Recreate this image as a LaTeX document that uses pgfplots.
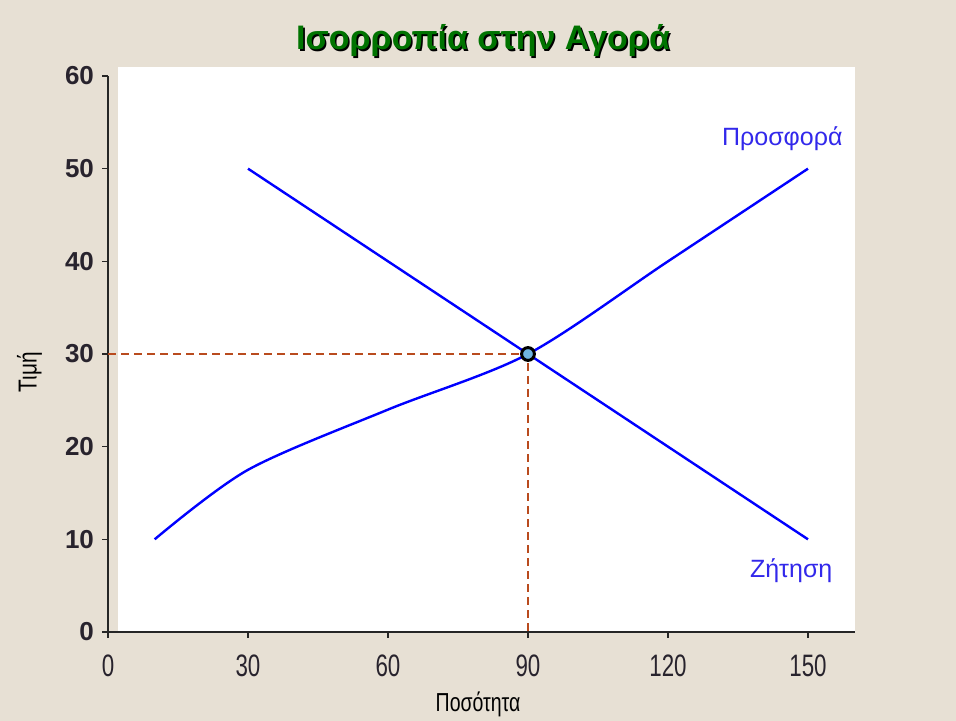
\documentclass[border=0pt]{standalone}
\usepackage{fontspec}
\setmainfont{Liberation Sans}
\usepackage{graphicx}
\usepackage{pgfplots}
\pgfplotsset{compat=1.18}
\definecolor{bg}{RGB}{231,224,212}
\definecolor{tgreen}{RGB}{0,115,0}
\definecolor{dashc}{RGB}{185,75,30}
\definecolor{lbl}{RGB}{50,40,235}
\definecolor{tick}{RGB}{40,35,45}
\definecolor{mfill}{RGB}{110,180,225}
\begin{document}
\begin{tikzpicture}
\useasboundingbox (0,0) rectangle (478pt,360.5pt);
\fill[bg] (0,0) rectangle (478pt,360.5pt);
\fill[white] (59pt,44.5pt) rectangle (427.5pt,327pt);
\node[text=black, font=\bfseries\fontsize{17}{19}\selectfont] at (242.3pt,339.2pt) {Ισορροπία στην Αγορά};
\node[text=tgreen, font=\bfseries\fontsize{17}{19}\selectfont] at (241.5pt,340pt) {Ισορροπία στην Αγορά};
\begin{axis}[
  at={(54pt,44.5pt)}, anchor=south west,
  scale only axis, width=373.33pt, height=278pt,
  xmin=0, xmax=160, ymin=0, ymax=60,
  axis x line=bottom, axis y line=left,
  axis line style={-, line width=0.8pt, black!85},
  xtick={0,30,60,90,120,150}, ytick={0,10,20,30,40,50,60},
  tick align=outside, major tick length=3pt,
  tick style={line width=0.8pt, black!85},
  /pgf/number format/assume math mode=true,
  xticklabel={\scalebox{0.72}[1]{\pgfmathprintnumber{\tick}}},
  xticklabel style={font=\fontsize{15.5}{16}\selectfont, text=tick, yshift=-5pt},
  yticklabel style={font=\bfseries\fontsize{13}{14}\selectfont, text=tick, xshift=-0.5pt},
  xlabel={\scalebox{0.75}[1]{Ποσότητα}},
  xlabel style={at={(axis cs:79.3,-7.8)}, anchor=center, font=\fontsize{13}{14}\selectfont},
  ylabel={\scalebox{0.8}[1]{Τιμή}},
  ylabel style={at={(axis cs:-16.8,28.06)}, anchor=center, font=\fontsize{13}{14}\selectfont},
  clip=false,
]
\addplot[dashc, line width=0.6pt, dash pattern=on 4pt off 2.5pt] coordinates {(0,30) (90,30) (90,0)};
\addplot[blue, line width=1.2pt] coordinates {(30,50) (90,30) (150,10)};
\addplot[blue, line width=1.2pt, smooth] coordinates {(10,10) (30,17.5) (60,24) (90,30) (120,40) (150,50)};
\addplot[only marks, mark=*, mark size=3.2pt, mark options={draw=black, fill=mfill, line width=1.5pt}] coordinates {(90,30)};
\node[text=lbl, font=\fontsize{12.5}{13}\selectfont] at (axis cs:144.5,53.2) {Προσφορά};
\node[text=lbl, font=\fontsize{12.5}{13}\selectfont] at (axis cs:146.4,6.6) {Ζήτηση};
\end{axis}
\end{tikzpicture}
\end{document}
